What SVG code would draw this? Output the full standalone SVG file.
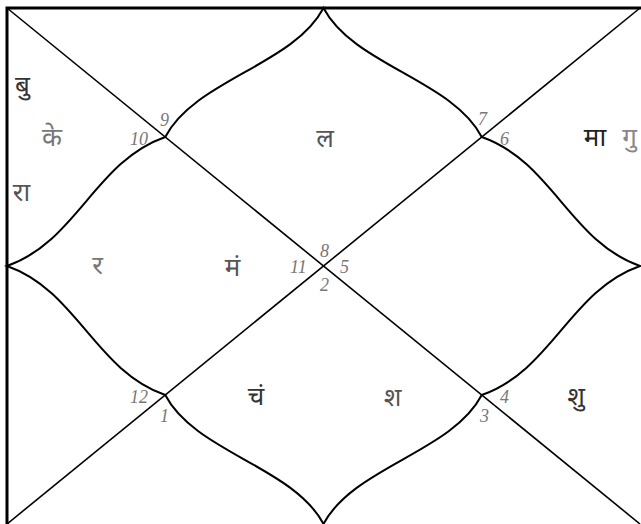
<svg xmlns="http://www.w3.org/2000/svg" width="641" height="524" viewBox="0 0 641 524">
<style>
.ln{fill:none;stroke:#000;stroke-width:1.6}
.cv{fill:none;stroke:#000;stroke-width:2}
.bd{fill:none;stroke:#000;stroke-width:3}
.num{font-family:"Liberation Serif",serif;font-style:italic;font-size:18px;fill:#777}
.pl{font-family:"Noto Sans Devanagari","Lohit Devanagari","FreeSans","Noto Sans",sans-serif;font-size:26px;text-anchor:middle}
</style>
<rect width="641" height="524" fill="#fff"/>
<g id="connectors">
<path class="bd" d="M7,530 L7,8 L645,8"/>
<line class="ln" x1="7" y1="8" x2="640" y2="524"/>
<line class="ln" x1="640" y1="8" x2="7" y2="524"/>
<path class="cv" d="M165.25,137 C195,80 293.5,65 323.5,8 C353.5,65 452,80 481.75,137"/>
<path class="cv" d="M165.25,395 C195,452 293.5,467 323.5,524 C353.5,467 452,452 481.75,395"/>
<path class="cv" d="M165.25,137 C95,161.5 77,241.5 7,266 C77,290.5 95,370.5 165.25,395"/>
<path class="cv" d="M481.75,137 C552,161.5 570,241.5 640,266 C570,290.5 552,370.5 481.75,395"/>
</g>
<g id="numbers">
<text class="num" x="160" y="126">9</text>
<text class="num" x="130" y="145">10</text>
<text class="num" x="320" y="257">8</text>
<text class="num" x="290" y="273">11</text>
<text class="num" x="340" y="273">5</text>
<text class="num" x="320" y="291">2</text>
<text class="num" x="478" y="125">7</text>
<text class="num" x="500" y="145">6</text>
<text class="num" x="130" y="403">12</text>
<text class="num" x="160" y="422">1</text>
<text class="num" x="500" y="403">4</text>
<text class="num" x="480" y="422">3</text>
</g>
<g id="planets">
<text class="pl" x="22.5" y="94" fill="#333">बु</text>
<text class="pl" x="52" y="146" fill="#777">के</text>
<text class="pl" x="21.5" y="201" fill="#555">रा</text>
<text class="pl" x="325" y="147" fill="#555">ल</text>
<text class="pl" x="595" y="146" fill="#222">मा</text>
<text class="pl" x="629.5" y="146" fill="#888">गु</text>
<text class="pl" x="97.5" y="274" fill="#777">र</text>
<text class="pl" x="232.5" y="276" fill="#555">मं</text>
<text class="pl" x="256" y="405" fill="#333">चं</text>
<text class="pl" x="392.5" y="406" fill="#555">श</text>
<text class="pl" x="576" y="405" fill="#333">शु</text>
</g>
</svg>
